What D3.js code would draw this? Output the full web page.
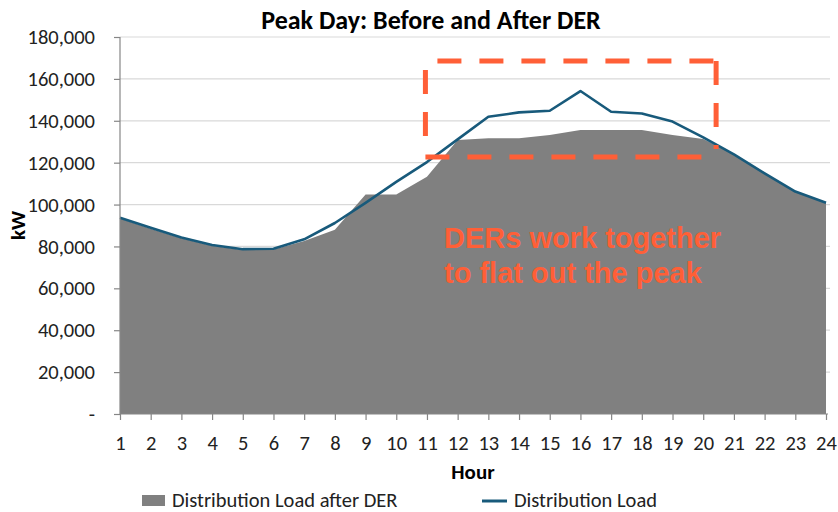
<!DOCTYPE html>
<meta charset="utf-8">
<style>
body { margin: 0; background: #fff; }
svg { font-family: Carlito, Lato, sans-serif; }
.grid line { stroke: #d9d9d9; stroke-width: 1.2px; }
.axis path, .axis line { stroke: #868686; stroke-width: 1.2px; }
.axis text { fill: #222; font-size: 20.5px; font-family: Carlito, Lato, sans-serif; }
</style>
<svg width="838" height="512"></svg>
<script src="https://d3js.org/d3.v7.min.js"></script>
<script>
// hours 1..24
var hours = d3.range(1, 25);
// Distribution Load (kW)
var loadBefore = [93700, 88900, 84300, 80700, 78700, 78900, 83400, 91200, 100800, 110800, 120300, 131100,
                  141900, 144000, 144800, 154200, 144300, 143500, 139600, 132100, 124000, 114900, 106200, 100900];
// Distribution Load after DER (kW)
var loadAfter = [93300, 88500, 83900, 80300, 78300, 78500, 82600, 88000, 104800, 104800, 113300, 130800,
                 131600, 131700, 133200, 135600, 135600, 135600, 133200, 131300, 124000, 114900, 106200, 100900];
var yTicks = [0, 20000, 40000, 60000, 80000, 100000, 120000, 140000, 160000, 180000];
// annotation box corners, in data units (hour, kW)
var boxHours = [10.95, 20.42];
var boxLoads = [122700, 168500];
var noteLines = ["DERs work together", "to flat out the peak"];

var svg = d3.select("svg");

var x = d3.scaleLinear().domain([1, 24]).range([120, 826]);
var y = d3.scaleLinear().domain([0, 180000]).range([414, 37]);

//gridlines first so the area covers them
svg.append("g")
    .attr("class", "grid")
  .selectAll("line")
  .data(yTicks.slice(1))
  .enter().append("line")
    .attr("x1", x(1))
    .attr("x2", x(24) + 4)
    .attr("y1", function(d) { return y(d); })
    .attr("y2", function(d) { return y(d); });

var area = d3.area()
    .x(function(d, i) { return x(hours[i]); })
    .y0(y(0))
    .y1(function(d) { return y(d); });

svg.append("path")
    .datum(loadAfter)
    .attr("d", area)
    .attr("fill", "#808080");

var line = d3.line()
    .x(function(d, i) { return x(hours[i]); })
    .y(function(d) { return y(d); });

svg.append("path")
    .datum(loadBefore)
    .attr("d", line)
    .attr("fill", "none")
    .attr("stroke", "#185a7b")
    .attr("stroke-width", 2.6)
    .attr("stroke-linejoin", "round");

// axes
var yAxis = d3.axisLeft(y)
    .tickValues(yTicks)
    .tickSize(6)
    .tickPadding(19)
    .tickFormat(function(d) { return d === 0 ? "-" : d3.format(",")(d); });

svg.append("g")
    .attr("class", "axis")
    .attr("transform", "translate(" + x(1) + ",0)")
    .call(yAxis)
    .call(function(g) { g.select(".domain").attr("d", "M0," + y(180000) + "V" + y(0)); });

var xAxis = d3.axisBottom(x)
    .tickValues(hours)
    .tickSize(6)
    .tickPadding(15)
    .tickFormat(d3.format("d"));

svg.append("g")
    .attr("class", "axis")
    .attr("transform", "translate(0," + y(0) + ")")
    .call(xAxis)
    .call(function(g) { g.select(".domain").attr("d", "M" + x(1) + ",0H" + (x(24) + 2)); });

// titles
svg.append("text")
    .attr("x", 431).attr("y", 29)
    .attr("text-anchor", "middle")
    .style("font-size", "26px").style("font-weight", "bold")
    .text("Peak Day: Before and After DER");

svg.append("text")
    .attr("x", 473).attr("y", 479)
    .attr("text-anchor", "middle")
    .style("font-size", "21px").style("font-weight", "bold")
    .text("Hour");

svg.append("text")
    .attr("transform", "translate(25," + y(90000) + ") rotate(-90)")
    .attr("text-anchor", "middle")
    .style("font-size", "21px").style("font-weight", "bold")
    .text("kW");

// dashed annotation box
var orange = "#ff5f37";
var bx0 = x(boxHours[0]), bx1 = x(boxHours[1]), by0 = y(boxLoads[1]), by1 = y(boxLoads[0]);
var box = svg.append("g")
    .attr("stroke", orange)
    .attr("stroke-width", 5)
    .attr("stroke-dasharray", "24,18")
    .attr("fill", "none");
box.append("line").attr("x1", bx0 + 12).attr("y1", by0).attr("x2", bx1 + 2).attr("y2", by0);
box.append("line").attr("x1", bx1).attr("y1", by0).attr("x2", bx1).attr("y2", by1 - 8);
box.append("line").attr("x1", bx0).attr("y1", by0 + 9).attr("x2", bx0).attr("y2", by1 - 14);
box.append("line").attr("x1", bx0).attr("y1", by1).attr("x2", bx1 - 6).attr("y2", by1);

svg.append("g")
  .selectAll("text")
  .data(noteLines)
  .enter().append("text")
    .attr("x", 444)
    .attr("y", function(d, i) { return 248 + i * 35; })
    .attr("fill", orange)
    .style("font-family", "'Liberation Sans', Arial, sans-serif")
    .style("font-size", "29px")
    .style("font-weight", "bold")
    .text(function(d) { return d; });

// legend
var legend = svg.append("g").style("font-size", "20.5px");
legend.append("rect")
    .attr("x", 142).attr("y", 495).attr("width", 23).attr("height", 11)
    .attr("fill", "#808080");
legend.append("text").attr("x", 172).attr("y", 507).attr("fill", "#222").text("Distribution Load after DER");
legend.append("line")
    .attr("x1", 482).attr("x2", 507).attr("y1", 501).attr("y2", 501)
    .attr("stroke", "#185a7b").attr("stroke-width", 3);
legend.append("text").attr("x", 514).attr("y", 507).attr("fill", "#222").text("Distribution Load");
</script>
